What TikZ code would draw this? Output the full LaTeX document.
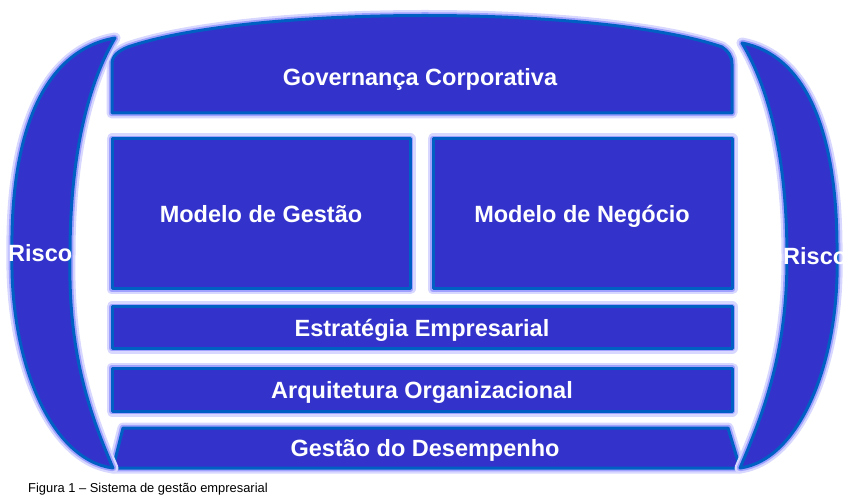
\documentclass[tikz,border=0pt]{standalone}
\usepackage{fontspec}
\setmainfont{Liberation Sans}

\definecolor{azul}{RGB}{51,51,204}
\definecolor{borda}{RGB}{0,95,195}
\definecolor{haloA}{RGB}{215,215,255}
\definecolor{haloB}{RGB}{160,160,255}

\tikzset{
  halo/.style={preaction={draw=haloA,line width=11pt,line join=round},
    preaction={draw=haloB,line width=6.5pt,line join=round}},
  bloco/.style={halo,fill=azul,draw=borda,line width=3pt,line join=round},
  rotulo/.style={anchor=base,text=white,inner sep=0pt,
    font=\bfseries\fontsize{23.5}{28}\selectfont}
}

\newcommand{\riscos}{
  % crescente da esquerda
  \draw [bloco] (115,38) .. controls (45,50) and (10,130) .. (12,255)
    .. controls (10,360) and (50,460) .. (113,468)
    .. controls (88,410) and (68,350) .. (70,255)
    .. controls (70,150) and (90,80) .. (115,38) -- cycle;
  % crescente da direita
  \draw [bloco] (742,43) .. controls (805,55) and (838,130) .. (837,255)
    .. controls (840,360) and (800,460) .. (740,468)
    .. controls (765,410) and (787,350) .. (787,258)
    .. controls (787,160) and (770,90) .. (742,43) -- cycle;
}

\begin{document}
\begin{tikzpicture}[x=1pt,y=-1pt]
    \useasboundingbox (0,0) rectangle (848,502);

    \draw [bloco] (112,113) -- (112,64) .. controls (112,56) and (118,51) .. (128,47)
      .. controls (250,5) and (600,5) .. (722,47)
      .. controls (728,51) and (732,56) .. (732,64) -- (732,113) -- cycle;
    \draw [bloco] (112,139) rectangle (410,289);
    \draw [bloco] (433,139) rectangle (732,289);
    \draw [bloco] (112,307) rectangle (732,348);
    \draw [bloco] (112,368) rectangle (732,411);
    \draw [bloco] (123,428) -- (728,428) -- (740,468) -- (113,468) -- cycle;

    \riscos

    \node [rotulo] (governanca) at (420,86) {Governança Corporativa};
    \node [rotulo] (gestao) at (261,223) {Modelo de Gestão};
    \node [rotulo] (negocio) at (582,223) {Modelo de Negócio};
    \node [rotulo] (estrategia) at (422,336) {Estratégia Empresarial};
    \node [rotulo] (arquitetura) at (422,398) {Arquitetura Organizacional};
    \node [rotulo] (desempenho) at (425,456) {Gestão do Desempenho};
    \node [rotulo,anchor=base west] (riscoesq) at (8,262) {Risco};
    \node [rotulo,anchor=base west] (riscodir) at (783,265) {Risco};

    \node [anchor=base west,inner sep=0pt,font=\fontsize{12.9}{15}\selectfont]
      (legenda) at (28,492) {Figura 1 – Sistema de gestão empresarial};
  \end{tikzpicture}
\end{document}
